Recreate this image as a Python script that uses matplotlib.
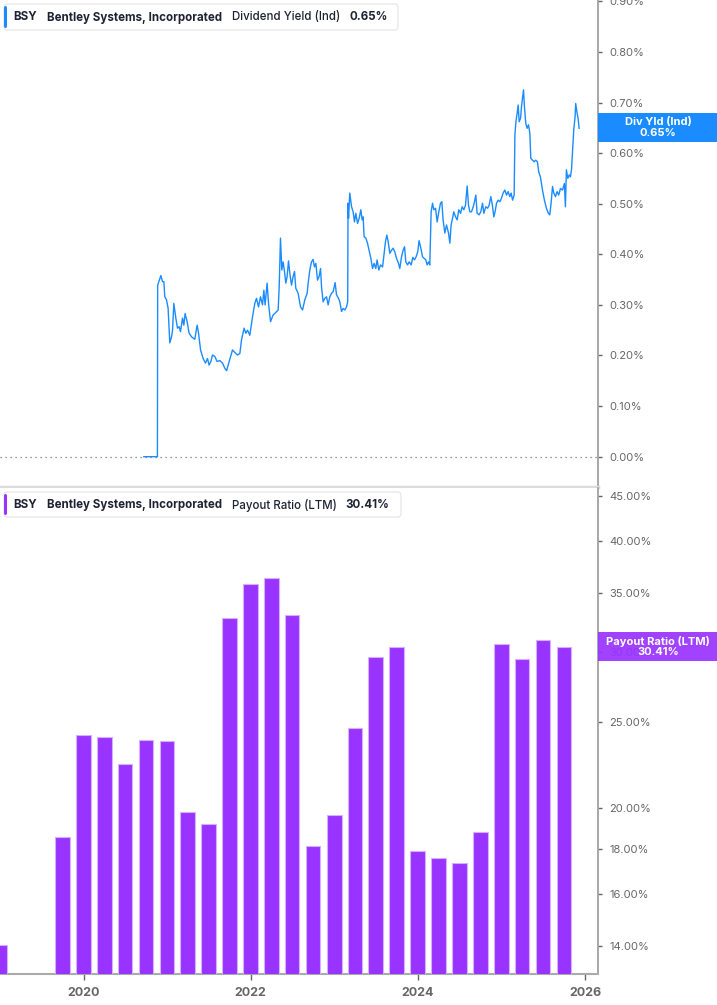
import matplotlib
matplotlib.use("Agg")
import matplotlib.pyplot as plt
from matplotlib.patches import FancyBboxPatch, Rectangle
from matplotlib.ticker import FixedLocator, FixedFormatter, NullLocator
import pandas as pd

W, H = 717, 1005
plt.rcParams['font.family'] = ['Inter', 'DejaVu Sans']

# ---------------- data ----------------
ticker = "BSY"
company = "Bentley Systems, Incorporated"
top_metric = "Dividend Yield (Ind)"
top_value_text = "0.65%"
top_tag = "Div Yld (Ind)"
bottom_metric = "Payout Ratio (LTM)"
bottom_value_text = "30.41%"
bottom_tag = "Payout Ratio (LTM)"

div_years = [
    2020.721, 2020.884, 2020.887, 2020.925, 2020.945, 2020.961, 2020.972, 2020.993,
    2021.012, 2021.032, 2021.053, 2021.065, 2021.080, 2021.104, 2021.124, 2021.144,
    2021.160, 2021.184, 2021.200, 2021.215, 2021.239, 2021.263, 2021.292, 2021.331,
    2021.359, 2021.376, 2021.400, 2021.431, 2021.459, 2021.483, 2021.502, 2021.523,
    2021.543, 2021.571, 2021.598, 2021.630, 2021.663, 2021.690, 2021.711, 2021.742,
    2021.782, 2021.810, 2021.842, 2021.870, 2021.890, 2021.921, 2021.941, 2021.962,
    2021.989, 2022.022, 2022.049, 2022.069, 2022.093, 2022.117, 2022.141, 2022.157,
    2022.172, 2022.196, 2022.213, 2022.237, 2022.268, 2022.300, 2022.328, 2022.340,
    2022.356, 2022.372, 2022.388, 2022.404, 2022.420, 2022.435, 2022.452, 2022.468,
    2022.488, 2022.507, 2022.524, 2022.539, 2022.567, 2022.596, 2022.620, 2022.647,
    2022.675, 2022.687, 2022.707, 2022.727, 2022.746, 2022.763, 2022.779, 2022.799,
    2022.818, 2022.835, 2022.847, 2022.866, 2022.886, 2022.907, 2022.926, 2022.946,
    2022.967, 2022.986, 2023.010, 2023.026, 2023.050, 2023.066, 2023.086, 2023.105,
    2023.126, 2023.146, 2023.160, 2023.164, 2023.170, 2023.185, 2023.206, 2023.225,
    2023.241, 2023.257, 2023.278, 2023.297, 2023.317, 2023.333, 2023.345, 2023.356,
    2023.377, 2023.397, 2023.416, 2023.437, 2023.457, 2023.476, 2023.496, 2023.512,
    2023.532, 2023.553, 2023.577, 2023.596, 2023.612, 2023.628, 2023.644, 2023.664,
    2023.684, 2023.703, 2023.723, 2023.744, 2023.768, 2023.783, 2023.804, 2023.823,
    2023.840, 2023.855, 2023.876, 2023.895, 2023.919, 2023.939, 2023.959, 2023.978,
    2023.998, 2024.014, 2024.035, 2024.055, 2024.074, 2024.094, 2024.110, 2024.127,
    2024.142, 2024.158, 2024.175, 2024.190, 2024.211, 2024.230, 2024.250, 2024.270,
    2024.286, 2024.301, 2024.322, 2024.342, 2024.366, 2024.382, 2024.397, 2024.414,
    2024.429, 2024.450, 2024.469, 2024.489, 2024.510, 2024.529, 2024.549, 2024.569,
    2024.589, 2024.605, 2024.621, 2024.641, 2024.667, 2024.693, 2024.708, 2024.732,
    2024.752, 2024.773, 2024.788, 2024.812, 2024.833, 2024.852, 2024.872, 2024.891,
    2024.908, 2024.923, 2024.940, 2024.959, 2024.980, 2025.000, 2025.019, 2025.040,
    2025.060, 2025.079, 2025.099, 2025.115, 2025.132, 2025.151, 2025.160, 2025.172,
    2025.187, 2025.199, 2025.211, 2025.228, 2025.239, 2025.251, 2025.263, 2025.274,
    2025.290, 2025.306, 2025.323, 2025.339, 2025.350, 2025.371, 2025.390, 2025.409,
    2025.429, 2025.445, 2025.465, 2025.490, 2025.513, 2025.537, 2025.561, 2025.577,
    2025.593, 2025.610, 2025.625, 2025.646, 2025.665, 2025.684, 2025.705, 2025.730,
    2025.752, 2025.764, 2025.776, 2025.793, 2025.809, 2025.824, 2025.837, 2025.849,
    2025.864, 2025.880, 2025.887, 2025.904, 2025.916, 2025.928,
]
div_yield = [
    0.000, 0.000, 0.339, 0.358, 0.346, 0.346, 0.316, 0.310,
    0.293, 0.225, 0.237, 0.250, 0.303, 0.274, 0.254, 0.257,
    0.247, 0.274, 0.260, 0.283, 0.267, 0.244, 0.237, 0.232,
    0.260, 0.244, 0.211, 0.194, 0.185, 0.194, 0.181, 0.188,
    0.201, 0.198, 0.188, 0.190, 0.185, 0.175, 0.170, 0.188,
    0.211, 0.206, 0.201, 0.204, 0.231, 0.254, 0.244, 0.250,
    0.240, 0.277, 0.303, 0.313, 0.296, 0.316, 0.300, 0.329,
    0.300, 0.343, 0.303, 0.267, 0.280, 0.285, 0.290, 0.333,
    0.432, 0.369, 0.385, 0.366, 0.343, 0.356, 0.387, 0.362,
    0.339, 0.356, 0.366, 0.333, 0.323, 0.296, 0.290, 0.310,
    0.323, 0.343, 0.369, 0.385, 0.390, 0.375, 0.382, 0.349,
    0.356, 0.372, 0.336, 0.306, 0.313, 0.316, 0.300, 0.316,
    0.323, 0.326, 0.344, 0.320, 0.313, 0.306, 0.287, 0.293,
    0.290, 0.296, 0.306, 0.501, 0.471, 0.521, 0.494, 0.484,
    0.464, 0.481, 0.461, 0.471, 0.488, 0.468, 0.474, 0.435,
    0.432, 0.422, 0.408, 0.392, 0.372, 0.382, 0.372, 0.389,
    0.369, 0.379, 0.375, 0.402, 0.425, 0.438, 0.425, 0.402,
    0.408, 0.412, 0.405, 0.392, 0.382, 0.372, 0.395, 0.408,
    0.415, 0.385, 0.379, 0.385, 0.379, 0.394, 0.389, 0.395,
    0.405, 0.427, 0.412, 0.395, 0.392, 0.389, 0.379, 0.385,
    0.379, 0.484, 0.501, 0.488, 0.491, 0.464, 0.484, 0.501,
    0.504, 0.468, 0.442, 0.458, 0.442, 0.422, 0.458, 0.471,
    0.484, 0.474, 0.468, 0.488, 0.481, 0.494, 0.488, 0.497,
    0.535, 0.497, 0.484, 0.484, 0.497, 0.517, 0.481, 0.478,
    0.484, 0.501, 0.481, 0.494, 0.491, 0.497, 0.514, 0.497,
    0.474, 0.484, 0.501, 0.507, 0.504, 0.511, 0.521, 0.527,
    0.517, 0.524, 0.514, 0.521, 0.507, 0.517, 0.636, 0.662,
    0.679, 0.695, 0.662, 0.669, 0.692, 0.708, 0.725, 0.692,
    0.659, 0.649, 0.656, 0.639, 0.590, 0.586, 0.583, 0.586,
    0.583, 0.563, 0.553, 0.527, 0.507, 0.491, 0.481, 0.478,
    0.501, 0.534, 0.521, 0.514, 0.524, 0.517, 0.530, 0.527,
    0.540, 0.494, 0.567, 0.550, 0.557, 0.553, 0.567, 0.603,
    0.646, 0.672, 0.698, 0.679, 0.669, 0.649,
]

payout_dates = [
    "2018-12-31", "2019-09-30", "2019-12-31", "2020-03-31", "2020-06-30",
    "2020-09-30", "2020-12-31", "2021-03-31", "2021-06-30", "2021-09-30",
    "2021-12-31", "2022-03-31", "2022-06-30", "2022-09-30", "2022-12-31",
    "2023-03-31", "2023-06-30", "2023-09-30", "2023-12-31", "2024-03-31",
    "2024-06-30", "2024-09-30", "2024-12-31", "2025-03-31", "2025-06-30",
    "2025-09-30",
]
payout_ratio = [
    14.03, 18.56, 24.17, 24.09, 22.43,
    23.86, 23.80, 19.82, 19.18, 32.74,
    35.79, 36.37, 33.05, 18.12, 19.65,
    24.61, 29.59, 30.39, 17.88, 17.58,
    17.35, 18.79, 30.65, 29.43, 30.92,
    30.41,
]

yield_ticks = [0.0, 0.1, 0.2, 0.3, 0.4, 0.5, 0.6, 0.7, 0.8, 0.9]
payout_ticks = [14, 16, 18, 20, 25, 30, 35, 40, 45]
year_ticks = [2020, 2022, 2024, 2026]
year_labels = ["2020", "2022", "2024", "2026"]

# ---------------- styling ----------------
BLUE = "#1a8cff"
PURPLE = "#9933ff"
TEXT = "#1f2233"
TICK = "#666666"
SPINE = "#9a9a9a"


def decimal_year(s):
    d = pd.Timestamp(s)
    n = 366 if d.is_leap_year else 365
    return d.year + (d.dayofyear - 0.5) / n


payout_x = [decimal_year(s) for s in payout_dates]

fig = plt.figure(figsize=(W / 100, H / 100), dpi=100)
fig.patch.set_facecolor("white")


def fx(px):
    return px / W


def fy(py):
    return 1 - py / H


ax1 = fig.add_axes([0, fy(487), fx(598), 487 / H])
ax2 = fig.add_axes([0, fy(974), fx(598), (974 - 488) / H])

XMIN, XMAX = 2019.001, 2026.154

# ---- top: dividend yield ----
ax1.axhline(0, color="#777777", lw=0.9, ls=(0, (1, 3)), zorder=1)
ax1.plot(div_years, div_yield, color=BLUE, lw=1.0, zorder=3)
ax1.set_xlim(XMIN, XMAX)
ax1.set_ylim(-0.0599, 0.9026)
ax1.yaxis.tick_right()
ax1.yaxis.set_major_locator(FixedLocator(yield_ticks))
ax1.yaxis.set_major_formatter(FixedFormatter([f"{t:.2f}%" for t in yield_ticks]))
ax1.set_xticks([])
for s in ["top", "left"]:
    ax1.spines[s].set_visible(False)
ax1.spines["bottom"].set_color("#dcdcdc")
ax1.spines["bottom"].set_linewidth(2.5)
ax1.spines["right"].set_color(SPINE)
ax1.spines["right"].set_linewidth(1.2)
ax1.tick_params(axis="y", direction="out", length=3, width=1, color=TICK,
                labelcolor=TICK, labelsize=8, pad=5)

# ---- bottom: payout ratio ----
ax2.bar(payout_x, payout_ratio, width=0.175, color=PURPLE,
        edgecolor="#d4b0ff", linewidth=0.8, zorder=3)
ax2.set_xlim(XMIN, XMAX)
ax2.set_yscale("log")
ax2.set_ylim(13.01, 45.91)
ax2.yaxis.tick_right()
ax2.yaxis.set_major_locator(FixedLocator(payout_ticks))
ax2.yaxis.set_major_formatter(FixedFormatter([f"{t:.2f}%" for t in payout_ticks]))
ax2.yaxis.set_minor_locator(NullLocator())
ax2.set_xticks(year_ticks)
ax2.set_xticklabels(year_labels, fontweight="bold")
for s in ["top", "left"]:
    ax2.spines[s].set_visible(False)
ax2.spines["bottom"].set_color("#aaaaaa")
ax2.spines["bottom"].set_linewidth(1.5)
ax2.spines["right"].set_color(SPINE)
ax2.spines["right"].set_linewidth(1.2)
ax2.tick_params(axis="y", direction="out", length=3, width=1, color=TICK,
                labelcolor=TICK, labelsize=8, pad=5)
ax2.tick_params(axis="x", direction="out", length=4, width=1, color=TICK,
                labelcolor=TICK, labelsize=9, pad=5)


# ---- legend boxes ----
LEG_FS = 8.3


def legend_box(y0, y1, color, metric, value, value_x, x1):
    box = FancyBboxPatch((fx(4), fy(y1)), fx(x1) - fx(4), fy(y0) - fy(y1),
                         boxstyle="round,pad=0,rounding_size=0.004",
                         transform=fig.transFigure, facecolor="white",
                         edgecolor="#e4e4e4", linewidth=0.8, zorder=10)
    fig.add_artist(box)
    bar = FancyBboxPatch((fx(4), fy(y1 - 2)), fx(7) - fx(4), fy(y0 + 2) - fy(y1 - 2),
                         boxstyle="round,pad=0,rounding_size=0.002",
                         transform=fig.transFigure, facecolor=color,
                         edgecolor="none", zorder=11)
    fig.add_artist(bar)
    yc = fy((y0 + y1) / 2 + 0.5)
    fig.text(fx(13), yc, ticker, fontsize=LEG_FS, fontweight="bold", color=TEXT,
             va="center", ha="left", zorder=12)
    fig.text(fx(47), yc, company, fontsize=LEG_FS, fontweight="bold", color=TEXT,
             va="center", ha="left", zorder=12)
    fig.text(fx(232), yc, metric, fontsize=LEG_FS, fontweight="medium", color=TEXT,
             va="center", ha="left", zorder=12)
    fig.text(fx(value_x), yc, value, fontsize=LEG_FS, fontweight="bold", color=TEXT,
             va="center", ha="left", zorder=12)


legend_box(4, 30, BLUE, top_metric, top_value_text, 349, 398)
legend_box(492, 517, PURPLE, bottom_metric, bottom_value_text, 345, 401)


# ---- right-hand value tags ----
def value_tag(ax, value, color, line1, line2, alpha):
    fig.canvas.draw()
    ydisp = ax.transData.transform((XMIN, value))[1]
    ypx = H - ydisp  # pixel from top
    rect = Rectangle((fx(598), fy(ypx + 14.5)), fx(717) - fx(598), 29 / H,
                     transform=fig.transFigure, facecolor=color, alpha=alpha,
                     edgecolor="none", zorder=20)
    fig.add_artist(rect)
    fig.text(fx(658), fy(ypx - 5.5), line1, fontsize=8, fontweight="bold",
             color="white", ha="center", va="center", zorder=21)
    fig.text(fx(658), fy(ypx + 5.5), line2, fontsize=8, fontweight="bold",
             color="white", ha="center", va="center", zorder=21)


value_tag(ax1, div_yield[-1] + 0.001, BLUE, top_tag, top_value_text, 1.0)
value_tag(ax2, payout_ratio[-1], PURPLE, bottom_tag, bottom_value_text, 0.93)

fig.savefig("out.png", dpi=100, facecolor="white")
